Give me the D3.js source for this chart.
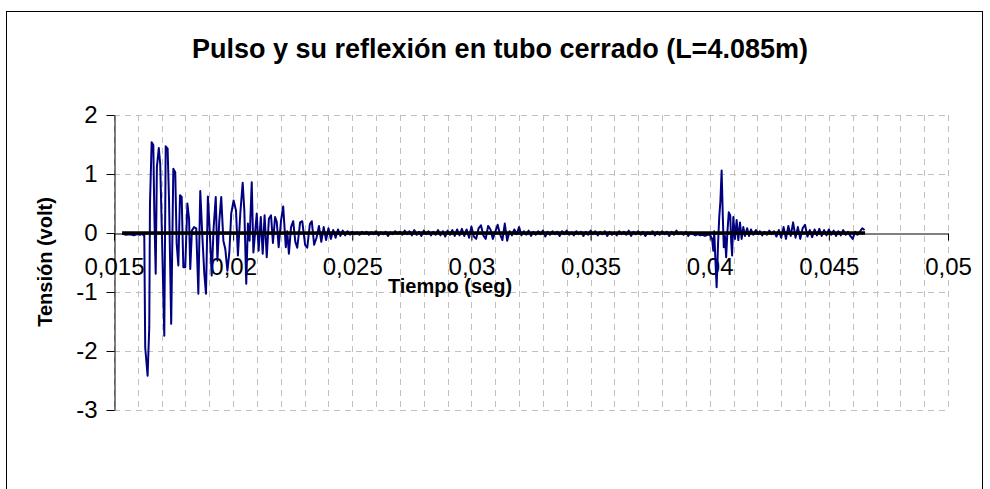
<!DOCTYPE html>
<html>
<head>
<meta charset="utf-8">
<script src="https://cdn.jsdelivr.net/npm/d3@7"></script>
<style>
  body { margin: 0; background: #fff; }
  text { font-family: Arial, "Liberation Sans", sans-serif; }
</style>
</head>
<body>
<div id="container"></div>
<script>
/* CONSTANTS AND GLOBALS */
const width = 990,
  height = 489,
  margin = { top: 115, bottom: 79, left: 114, right: 42 };

const titulo = "Pulso y su reflexión en tubo cerrado (L=4.085m)";
const tituloX = "Tiempo (seg)";
const tituloY = "Tensión (volt)";

const xTicks = [0.015, 0.02, 0.025, 0.03, 0.035, 0.04, 0.045, 0.05];
const xLabels = ["0,015", "0,02", "0,025", "0,03", "0,035", "0,04", "0,045", "0,05"];
const yTicks = [-3, -2, -1, 0, 1, 2];
const yLabels = ["-3", "-2", "-1", "0", "1", "2"];

/* DATA: [tiempo (s), tensión (V)] */
const ruidoInicial = [
  [0.01534,-0.01],[0.01550,-0.03],[0.01567,-0.02],[0.01584,-0.04],[0.01597,-0.02],
  [0.01609,-0.03],[0.01618,-0.01],[0.01624,-0.04]
];

const pulsoDirecto = [
  [0.01627,-0.01],[0.01631,-1.94],[0.01641,-2.42],[0.01648,-1.60],[0.01651,0.50],
  [0.01658,1.54],[0.01665,1.49],[0.01669,0.38],[0.01675,-0.69],[0.01680,1.12],
  [0.01688,1.44],[0.01694,1.17],[0.01701,0.00],[0.01711,-1.74],[0.01717,1.47],
  [0.01725,1.43],[0.01731,0.55],[0.01740,-1.54],[0.01749,1.09],[0.01757,1.03],
  [0.01763,-0.18],[0.01770,-0.55],[0.01777,0.64],[0.01784,0.61],[0.01791,-0.58],
  [0.01799,-0.58],[0.01808,0.50],[0.01815,0.24],[0.01820,-0.61],[0.01827,0.04],
  [0.01836,0.10],[0.01845,0.08],[0.01854,-1.03],[0.01862,0.71],[0.01871,-0.07],
  [0.01879,-0.69],[0.01886,-1.03],[0.01894,0.62],[0.01903,-0.07],[0.01910,-0.72],
  [0.01918,0.08],[0.01927,0.61],[0.01934,-0.47],[0.01942,0.21],[0.01950,0.61],
  [0.01959,-0.13],[0.01967,-0.27],[0.01976,-0.64],[0.01984,-0.33],[0.01992,0.33],
  [0.02002,0.55],[0.02012,0.38],[0.02020,-0.38],[0.02030,0.33],[0.02040,0.85],
  [0.02047,0.38],[0.02055,-0.86],[0.02062,0.16],[0.02069,-0.13],[0.02078,0.86],
  [0.02085,-0.33],[0.02092,0.00],[0.02099,0.33],[0.02107,-0.30],[0.02116,0.27],
  [0.02124,-0.35],[0.02132,0.30],[0.02141,-0.41],[0.02150,0.24],[0.02159,0.30],
  [0.02167,-0.17],[0.02176,0.27],[0.02183,0.19],[0.02191,-0.24],[0.02201,0.21],
  [0.02210,0.45],[0.02221,-0.24],[0.02227,0.03],[0.02234,-0.35],[0.02243,0.10],
  [0.02252,0.20],[0.02261,-0.15],[0.02269,-0.25],[0.02281,0.18],[0.02290,0.20],
  [0.02302,-0.20],[0.02311,-0.25],[0.02322,0.15]
];

const colaPulso = [
  [0.0233,0.20],[0.0234,-0.20],[0.0235,-0.08],[0.0236,0.12],[0.0237,-0.15],[0.0238,0.10],
  [0.0239,-0.12],[0.0240,0.08],[0.0241,-0.10],[0.0242,0.05],[0.0243,-0.08],[0.0244,0.06],
  [0.0245,-0.05],[0.0246,0.04],[0.0247,-0.04],[0.0248,0.03],[0.0249,-0.03],[0.0250,0.02],
  [0.0251,-0.02],[0.0252,0.01],[0.0253,-0.03],[0.0254,0.02],[0.0255,-0.01],[0.0256,0.02],
  [0.0257,-0.03],[0.0258,0.01],[0.0259,-0.02],[0.0260,0.03],[0.0261,-0.04],[0.0262,0.01],
  [0.0263,-0.02],[0.0264,0.02],[0.0265,-0.05],[0.0266,0.01],[0.0267,-0.02],[0.0268,0.03],
  [0.0269,-0.01],[0.0270,0.02],[0.0271,-0.03],[0.0272,0.04],[0.0273,-0.02],[0.0274,0.03],
  [0.0275,-0.04],[0.0276,0.05],[0.0277,-0.03],[0.0278,0.02],[0.0279,-0.05],[0.0280,0.04],
  [0.0281,-0.02],[0.0282,0.03],[0.0283,-0.04],[0.0284,0.02],[0.0285,-0.03],[0.0286,0.05],
  [0.0287,-0.04],[0.0288,0.03],[0.0289,-0.06],[0.0290,0.04],[0.0291,-0.03],[0.0292,0.05],
  [0.0293,-0.05],[0.0294,0.06],[0.0295,-0.04],[0.0296,0.07],[0.0297,-0.05],[0.0298,0.06],
  [0.0299,-0.08],[0.0300,0.11],[0.0301,-0.06],[0.0302,-0.10],[0.0303,0.08],[0.0304,0.13],
  [0.0305,-0.04],[0.0306,-0.10],[0.0307,0.12],[0.0308,0.06],[0.0309,-0.10],[0.0310,0.02],
  [0.0311,0.14],[0.0312,-0.02],[0.0313,-0.12],[0.0314,0.16],[0.0315,-0.13],[0.0316,0.03],
  [0.0317,-0.04],[0.0318,0.06],[0.0319,-0.02],[0.0320,0.10],[0.0321,-0.04],[0.0322,0.03],
  [0.0323,-0.03],[0.0324,0.04],[0.0325,-0.05],[0.0326,0.02],[0.0327,-0.03],[0.0328,0.03],
  [0.0329,-0.02],[0.0330,0.04],[0.0331,-0.06],[0.0332,0.02],[0.0333,-0.03],[0.0334,0.03],
  [0.0335,-0.02],[0.0336,0.02],[0.0337,-0.05],[0.0338,0.03],[0.0339,-0.02],[0.0340,0.04],
  [0.0341,-0.03],[0.0342,0.01],[0.0343,-0.04],[0.0344,0.03],[0.0345,-0.02],[0.0346,0.02],
  [0.0347,-0.05],[0.0348,0.02],[0.0349,-0.03],[0.0350,0.04],[0.0351,-0.02],[0.0352,0.03],
  [0.0353,-0.04],[0.0354,0.02],[0.0355,-0.02],[0.0356,0.03],[0.0357,-0.05],[0.0358,0.02],
  [0.0359,-0.03],[0.0360,0.01],[0.0361,-0.04],[0.0362,0.03],[0.0363,-0.02],[0.0364,0.02],
  [0.0365,-0.03],[0.0366,0.04],[0.0367,-0.05],[0.0368,0.02],[0.0369,-0.02],[0.0370,0.03],
  [0.0371,-0.03],[0.0372,0.02],[0.0373,-0.05],[0.0374,0.01],[0.0375,-0.02],[0.0376,0.03],
  [0.0377,-0.04],[0.0378,0.02],[0.0379,-0.03],[0.0380,0.03],[0.0381,-0.02],[0.0382,0.02],
  [0.0383,-0.05],[0.0384,0.02],[0.0385,-0.03],[0.0386,0.04],[0.0387,-0.02],[0.0388,0.01],
  [0.0389,-0.03],[0.0390,0.02],[0.0391,-0.05],[0.0392,0.01],[0.0393,-0.02],[0.0394,-0.04],
  [0.0395,-0.02],[0.0396,-0.04],[0.0397,-0.03],[0.0398,-0.05],[0.0399,-0.03]
];

const reflexion = [
  [0.04001,-0.03],[0.04010,-0.10],[0.04015,-0.30],[0.04019,0.03],[0.04024,-0.47],
  [0.04029,-0.92],[0.04035,-0.18],[0.04040,0.27],[0.04045,0.55],[0.04050,1.06],
  [0.04055,0.27],[0.04059,-0.24],[0.04064,-0.05],[0.04069,-0.41],[0.04074,0.00],
  [0.04080,0.35],[0.04086,0.30],[0.04090,-0.13],[0.04094,-0.38],[0.04099,0.27],
  [0.04106,-0.10],[0.04113,0.22],[0.04120,-0.12],[0.04127,0.18],[0.04134,-0.10],
  [0.04141,0.10],[0.04148,-0.05],[0.04157,0.08],[0.04165,-0.05],[0.04173,0.06],
  [0.04183,-0.03],[0.04194,0.05],[0.04204,-0.02]
];

const colaReflexion = [
  [0.0421,0.03],[0.0422,-0.04],[0.0423,0.02],[0.0424,-0.03],[0.0425,0.04],[0.0426,-0.02],
  [0.0427,0.03],[0.0428,-0.06],[0.0429,0.05],[0.0430,-0.08],[0.0431,0.10],[0.0432,-0.10],
  [0.0433,0.12],[0.0434,-0.05],[0.0435,0.18],[0.0436,-0.08],[0.0437,0.10],[0.0438,-0.10],
  [0.0439,0.08],[0.0440,0.14],[0.0441,-0.06],[0.0442,0.05],[0.0443,-0.07],[0.0444,0.06],
  [0.0445,-0.04],[0.0446,0.07],[0.0447,-0.05],[0.0448,0.05],[0.0449,-0.04],[0.0450,0.06],
  [0.0451,-0.03],[0.0452,0.04],[0.0453,-0.05],[0.0454,0.03],[0.0455,-0.04],[0.0456,0.05],
  [0.0457,-0.03],[0.0458,0.02],[0.0459,-0.05],[0.0460,-0.10],[0.0461,0.02],[0.0462,-0.03],
  [0.0463,0.02],[0.0464,0.08],[0.0465,0.05]
];

// second (black) series sitting on zero
const lineaCero = [[0.01534, 0], [0.04652, 0]];

const senal = [].concat(ruidoInicial, pulsoDirecto, colaPulso, reflexion, colaReflexion);

/* SCALES */
const xScale = d3.scaleLinear()
  .domain([0.015, 0.05])
  .range([margin.left, width - margin.right]);

const yScale = d3.scaleLinear()
  .domain([-3, 2])
  .range([height - margin.bottom, margin.top]);

/* SVG */
const svg = d3.select("#container")
  .append("svg")
  .attr("width", width)
  .attr("height", height)
  .style("background-color", "#fff");

// chart frame
svg.append("rect")
  .attr("x", 6.5).attr("y", 11.5)
  .attr("width", 976).attr("height", 490)
  .attr("fill", "none")
  .attr("stroke", "#000")
  .attr("stroke-width", 1);

// GRID
const minorX = d3.range(15, 51).map(d => d / 1000);
svg.append("g").attr("class", "gridX")
  .selectAll("line")
  .data(minorX)
  .join("line")
  .attr("x1", d => Math.round(xScale(d)) + 0.5)
  .attr("x2", d => Math.round(xScale(d)) + 0.5)
  .attr("y1", yScale(2))
  .attr("y2", yScale(-3))
  .attr("stroke", "#c0c0c0")
  .attr("stroke-dasharray", "6,5");

svg.append("g").attr("class", "gridY")
  .selectAll("line")
  .data(yTicks.filter(d => d !== 0))
  .join("line")
  .attr("x1", xScale(0.015))
  .attr("x2", xScale(0.05))
  .attr("y1", d => Math.round(yScale(d)) + 0.5)
  .attr("y2", d => Math.round(yScale(d)) + 0.5)
  .attr("stroke", "#c0c0c0")
  .attr("stroke-dasharray", "6,5");

// AXES
const xAxis = d3.axisBottom(xScale)
  .tickValues(xTicks)
  .tickFormat((d, i) => xLabels[i])
  .tickSize(7)
  .tickSizeOuter(0)
  .tickPadding(17);

const xAxisGroup = svg.append("g")
  .attr("class", "xAxis")
  .attr("transform", `translate(0,${Math.round(yScale(0)) + 0.5})`)
  .call(xAxis);

const yAxis = d3.axisLeft(yScale)
  .tickValues(yTicks)
  .tickFormat((d, i) => yLabels[i])
  .tickSize(8)
  .tickSizeOuter(0)
  .tickPadding(9);

const yAxisGroup = svg.append("g")
  .attr("class", "yAxis")
  .attr("transform", `translate(${Math.round(xScale(0.015)) + 0.5},0)`)
  .call(yAxis);

svg.selectAll(".xAxis text, .yAxis text")
  .attr("font-family", "Arial, 'Liberation Sans', sans-serif")
  .attr("font-size", 24)
  .attr("fill", "#000");
svg.selectAll(".xAxis path, .xAxis line, .yAxis path, .yAxis line")
  .attr("stroke", "#000");

// TITLES
svg.append("text")
  .attr("x", 500).attr("y", 58)
  .attr("text-anchor", "middle")
  .attr("font-size", 27)
  .attr("font-weight", "bold")
  .text(titulo);

svg.append("text")
  .attr("x", 450).attr("y", 293)
  .attr("text-anchor", "middle")
  .attr("font-size", 20)
  .attr("font-weight", "bold")
  .text(tituloX);

svg.append("text")
  .attr("transform", "translate(52,262) rotate(-90)")
  .attr("text-anchor", "middle")
  .attr("font-size", 20)
  .attr("font-weight", "bold")
  .text(tituloY);

// LINES
const line = d3.line()
  .x(d => xScale(d[0]))
  .y(d => yScale(d[1]));

svg.append("path")
  .datum(senal)
  .attr("d", line)
  .attr("fill", "none")
  .attr("stroke", "#000080")
  .attr("stroke-width", 2)
  .attr("stroke-linejoin", "round");

svg.append("path")
  .datum(lineaCero)
  .attr("d", line)
  .attr("fill", "none")
  .attr("stroke", "#000")
  .attr("stroke-width", 3.5);
</script>
</body>
</html>
